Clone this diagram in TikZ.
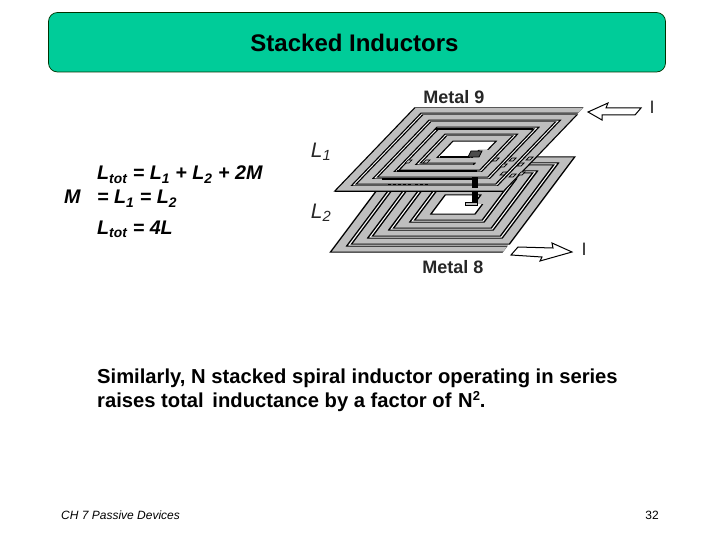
\documentclass[tikz,border=0pt]{standalone}
\usepackage{fontspec}
\setmainfont{Liberation Sans}
\tikzset{
  titlebar/.style={draw=black!80!green,fill=titlegreen,rounded corners=9pt,line width=0.7pt},
  coilband/.style={draw=black,line width=0.85pt,double=coilgray,double distance=4.5pt,line join=miter},
  hollowarrow/.style={draw=black,fill=white,line width=1pt,line join=miter},
  ladderbox/.style={draw=black,fill=coilgray,line width=0.7pt},
  boldtext/.style={anchor=base west,inner sep=0pt,font=\fontsize{20.2}{24}\selectfont\bfseries},
  eqtext/.style={boldtext,font=\fontsize{19.7}{24}\selectfont\bfseries\itshape},
  metaltext/.style={inner sep=0pt,font=\fontsize{18}{20}\selectfont\bfseries,text=black!85},
  coiltext/.style={inner sep=0pt,font=\fontsize{21}{24}\selectfont\itshape,text=black!85}
}
\definecolor{titlegreen}{HTML}{00CC99}
\definecolor{coilgray}{HTML}{BEBEBE}
\newcommand{\coilpath}{(80,2.5)--(2.5,2.5)--(2.5,80.5)--(77.5,80.5)--(77.5,9.5)--(9.5,9.5)--(9.5,73.5)--(70.5,73.5)--(70.5,16.5)--(16.5,16.5)--(16.5,66.5)--(63.5,66.5)--(63.5,23.5)--(23.5,23.5)--(23.5,59.5)--(56.5,59.5)--(56.5,30.5)--(30.5,30.5)--(30.5,52.5)--(52.5,52.5)--(52.5,42)}

\begin{document}
\begin{tikzpicture}[x=1pt,y=-1pt]
  \useasboundingbox (0,0) rectangle (720,540);
  \draw[titlebar] (48.5,12.5) rectangle (665.5,72);
  \node[inner sep=0pt,font=\fontsize{24}{28}\selectfont\bfseries] (title) at (354.5,43) {Stacked Inductors};

  \node[eqtext] (eqa) at (97,180) {L\textsubscript{tot} = L\textsubscript{1} + L\textsubscript{2} + 2M};
  \node[eqtext] (eqm) at (64,204) {M};
  \node[eqtext] (eqb) at (97,204) {= L\textsubscript{1} = L\textsubscript{2}};
  \node[eqtext] (eqc) at (97,234) {L\textsubscript{tot} = 4L};

  % lower coil
  \begin{scope}[transform canvas={cm={2.15,0,-0.858,-1.145,(331,252)}}]
    \draw[coilband] \coilpath;
  \end{scope}
  \draw[ladderbox] (465,202) rectangle (477,205.5);
  \fill[black] (472,185) rectangle (478,203);

  % upper coil
  \fill[white] (415,108)--(583,108)--(503,191)--(335,191)--cycle;
  \begin{scope}[transform canvas={cm={2.1,0,0.96,1,(415,108)}}]
    \draw[coilband] \coilpath;
  \end{scope}
  \draw[line width=1.6pt] (335,191.5)--(503,191.5);
  \draw[line width=1.4pt] (435,129)--(533,129);
  \draw[line width=1.4pt] (397,171)--(477,171);
  \draw[line width=1.4pt] (440,157)--(470,157);
  \draw[line width=2.2pt] (382,179)--(475,179);
  \fill[black] (472,177) rectangle (478,188);
  \draw[ladderbox,fill=black!70] (471,151)--(482,151)--(479,157)--(468,157)--cycle;
  \foreach \lx/\ly in {495/158,503/164,512/158,520/163,529/157,521/172,512/174,503/172}
    \draw[ladderbox] (\lx,\ly)--(\lx+4,\ly)--(\lx+1,\ly+3)--(\lx-3,\ly+3)--cycle;
  \foreach \lx in {408,426}
    \draw[ladderbox] (\lx,160)--(\lx+4,160)--(\lx+1,163)--(\lx-3,163)--cycle;
  \foreach \lx in {388,393,398,403,408,415,420,425}
    \draw[line width=1pt] (\lx,185)--(\lx+3,185);

  % current arrows
  \draw[hollowarrow] (588,112)--(608,103)--(606,108)--(641,108)--(635,115)--(602,115)--(602,120)--cycle;
  \draw[hollowarrow] (572,252)--(552,243)--(553,248)--(518,247)--(511,255)--(542,257)--(540,261)--cycle;

  \node[metaltext] (metalnine) at (454,97) {Metal 9};
  \node[metaltext] (metaleight) at (453,267) {Metal 8};
  \node[coiltext] (lone) at (321,152) {L\textsubscript{1}};
  \node[coiltext] (ltwo) at (321,213) {L\textsubscript{2}};
  \node[metaltext,font=\fontsize{18}{20}\selectfont] (itop) at (652,107) {I};
  \node[metaltext,font=\fontsize{18}{20}\selectfont] (ibot) at (584,249) {I};

  \node[boldtext] (simline) at (97,383) {Similarly, N stacked spiral inductor operating in series};
  \node[boldtext] (raiseline) at (97,407) {raises total\hspace{3pt} inductance by a factor of\hspace{1pt} N{\fontsize{13}{14}\selectfont\raisebox{7pt}{2}}.};

  \node[anchor=base west,inner sep=0pt,font=\fontsize{12}{14}\selectfont\itshape] (footer) at (61,519) {CH 7 Passive Devices};
  \node[anchor=base east,inner sep=0pt,font=\fontsize{12}{14}\selectfont] (pageno) at (659,519) {32};
\end{tikzpicture}
\end{document}
